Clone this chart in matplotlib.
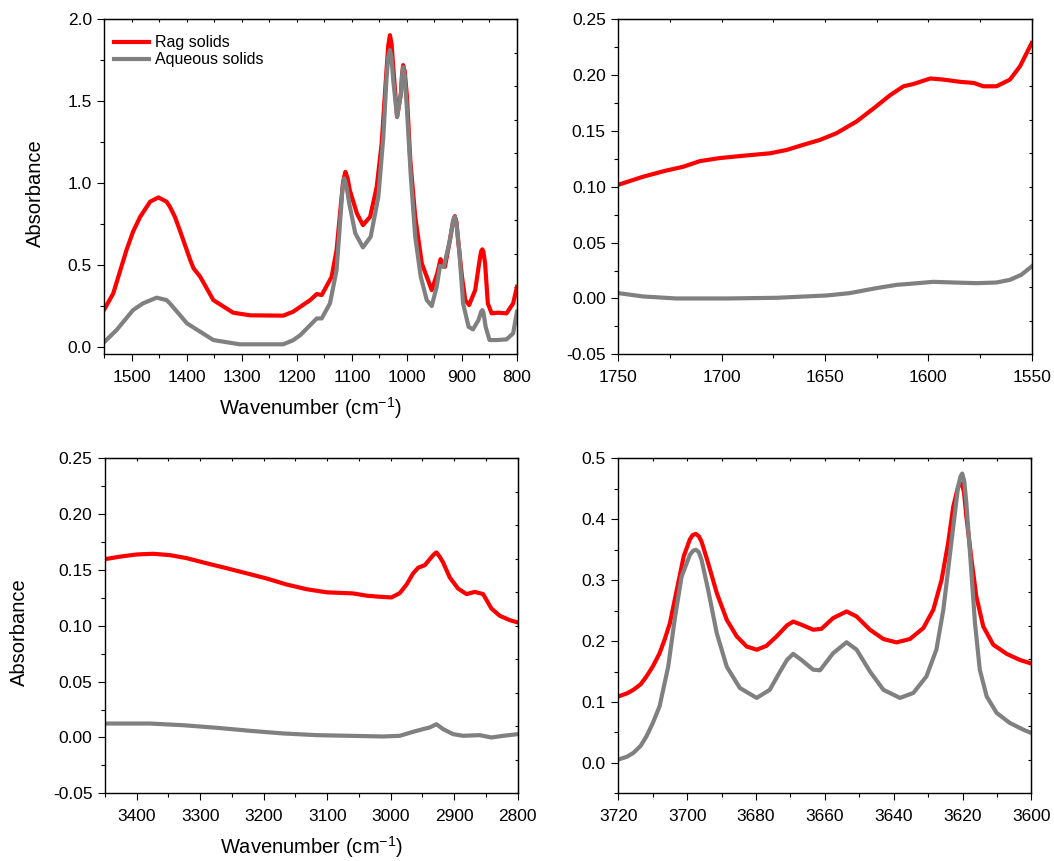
import numpy as np
import matplotlib.pyplot as plt
from matplotlib.ticker import MultipleLocator, FormatStrFormatter

plt.rcParams['font.family'] = ['Liberation Sans', 'DejaVu Sans']
plt.rcParams['axes.unicode_minus'] = False
plt.rcParams['mathtext.default'] = 'regular'

RED = '#ff0000'
GRAY = '#808080'

# ---- 1550-800 cm-1 window
fp_wn_rag = [1550, 1534, 1510, 1498, 1485, 1467, 1452, 1437, 1431, 1422, 1413, 1394, 1388,
             1376, 1352, 1316, 1285, 1225, 1207, 1194, 1176, 1164, 1155, 1137, 1128, 1120,
             1116, 1112, 1108, 1104, 1091, 1080, 1067, 1055, 1046, 1038, 1034, 1031, 1028,
             1025, 1018, 1011, 1009, 1007, 1004, 1000, 994, 985, 973, 955, 945, 939, 931, 922,
             916, 913, 910, 907, 900, 894, 887, 876, 867, 865, 863, 861, 858, 853, 846, 834,
             819, 807, 800]
fp_rag = [0.23, 0.326, 0.59, 0.703, 0.794, 0.886, 0.912, 0.886, 0.855, 0.794, 0.712, 0.529, 0.479,
          0.428, 0.285, 0.208, 0.192, 0.19, 0.214, 0.244, 0.285, 0.322, 0.316, 0.427, 0.59, 0.875,
          1.01, 1.068, 1.03, 0.957, 0.814, 0.743, 0.794, 0.977, 1.242, 1.65, 1.84, 1.903, 1.85,
          1.71, 1.404, 1.547, 1.66, 1.72, 1.68, 1.526, 1.14, 0.794, 0.509, 0.346, 0.448, 0.535,
          0.488, 0.651, 0.77, 0.798, 0.76, 0.651, 0.428, 0.285, 0.255, 0.346, 0.55, 0.585, 0.595,
          0.58, 0.509, 0.265, 0.204, 0.208, 0.204, 0.265, 0.366]
fp_wn_aq = [1550, 1528, 1498, 1480, 1455, 1437, 1431, 1400, 1376, 1352, 1304, 1225, 1207, 1194,
            1164, 1155, 1140, 1128, 1120, 1117, 1114, 1110, 1105, 1094, 1080, 1066, 1052, 1043,
            1037, 1034, 1031, 1028, 1025, 1018, 1011, 1009, 1007, 1004, 1000, 993, 985, 975, 964,
            955, 946, 940, 933, 922, 916, 913, 910, 905, 898, 888, 880, 870, 865, 863, 861, 857,
            850, 837, 819, 807, 800]
fp_aq = [0.03, 0.102, 0.224, 0.265, 0.30, 0.285, 0.265, 0.143, 0.092, 0.041, 0.015, 0.015, 0.04,
         0.071, 0.173, 0.173, 0.265, 0.468, 0.835, 0.98, 1.028, 0.98, 0.876, 0.693, 0.607, 0.672,
         0.916, 1.283, 1.65, 1.77, 1.812, 1.76, 1.629, 1.405, 1.547, 1.65, 1.707, 1.65, 1.446,
         1.038, 0.672, 0.428, 0.285, 0.249, 0.366, 0.493, 0.488, 0.651, 0.77, 0.794, 0.75, 0.59,
         0.265, 0.122, 0.106, 0.163, 0.215, 0.224, 0.21, 0.122, 0.041, 0.041, 0.045, 0.082, 0.214]

# ---- 1750-1550 cm-1 window
cc_wn_rag = [1750, 1738, 1728, 1718.5, 1710.5, 1701, 1689.5, 1676.6, 1668.5, 1660.5, 1652.4,
             1644.4, 1634.7, 1626.6, 1618.5, 1612, 1607.3, 1599, 1592.7, 1584.7, 1578, 1573.4,
             1567, 1560.5, 1555.6, 1550]
cc_rag = [0.1018, 0.109, 0.114, 0.118, 0.123, 0.1257, 0.1278, 0.130, 0.133, 0.1376, 0.142,
          0.148, 0.1585, 0.170, 0.182, 0.190, 0.192, 0.197, 0.196, 0.194, 0.193, 0.190,
          0.190, 0.196, 0.208, 0.2287]
cc_wn_aq = [1750, 1738, 1722, 1697.6, 1673.4, 1649, 1638, 1625, 1615.3, 1609, 1597.6, 1588,
            1576.6, 1567, 1560.5, 1555, 1550]
cc_aq = [0.0048, 0.0018, 0.0, 0.0, 0.0006, 0.0027, 0.0048, 0.0093, 0.0122, 0.0131, 0.0149,
         0.0143, 0.0137, 0.0143, 0.0167, 0.0212, 0.0287]

# ---- 3450-2800 cm-1 window
ch_wn_rag = [3450, 3426, 3400, 3374, 3347.7, 3321.5, 3290, 3258.5, 3227, 3195.5, 3164, 3132.6,
             3101, 3059, 3038, 3017, 2998.8, 2985.7, 2975, 2964.7, 2956.8, 2946.3, 2938.5, 2932,
             2928, 2923, 2917.5, 2907, 2894, 2880.7, 2867.6, 2854.5, 2841.4, 2828.3, 2812.6, 2800]
ch_rag = [0.1597, 0.162, 0.1639, 0.1645, 0.1633, 0.1606, 0.156, 0.1516, 0.147, 0.1424, 0.137,
          0.1328, 0.130, 0.129, 0.127, 0.126, 0.1254, 0.1293, 0.137, 0.147, 0.152, 0.1543,
          0.1597, 0.164, 0.1657, 0.162, 0.1567, 0.1433, 0.1334, 0.1284, 0.1304, 0.1284, 0.1155,
          0.109, 0.1051, 0.103]
ch_wn_aq = [3450, 3379, 3327, 3274, 3222, 3169, 3117, 3064, 3012, 2985.7, 2964.7, 2949, 2938.5,
            2928, 2917.5, 2901.7, 2886, 2860, 2841.4, 2823, 2800]
ch_aq = [0.0125, 0.0125, 0.011, 0.0087, 0.006, 0.0036, 0.0021, 0.0015, 0.0009, 0.0015, 0.0051,
         0.0075, 0.009, 0.0119, 0.0075, 0.003, 0.0015, 0.0021, 0.0, 0.0015, 0.003]

# ---- 3720-3600 cm-1 window
oh_wn_rag = [3720, 3717.5, 3715.6, 3713.5, 3711.8, 3710, 3708, 3706.5, 3705, 3703, 3701, 3699.2,
             3698.4, 3697.5, 3696.6, 3695.8, 3693.9, 3691.4, 3688.5, 3685.6, 3682.7, 3679.8,
             3677, 3674, 3671, 3669.2, 3666.8, 3663.4, 3661, 3657.6, 3653.7, 3650.8, 3646.9,
             3643, 3639.2, 3635.3, 3631.4, 3628.5, 3626.1, 3624.2, 3622.7, 3621.3, 3620.3,
             3619.6, 3618.9, 3617.4, 3616, 3614, 3611.1, 3607.2, 3603.4, 3600]
oh_rag = [0.109, 0.114, 0.120, 0.129, 0.142, 0.158, 0.180, 0.203, 0.2295, 0.284, 0.339, 0.367,
          0.374, 0.376, 0.372, 0.363, 0.328, 0.279, 0.235, 0.2077, 0.191, 0.1858, 0.192, 0.2077,
          0.2257, 0.232, 0.2268, 0.2186, 0.2200, 0.2377, 0.2486, 0.2404, 0.2186, 0.2033, 0.1978,
          0.2033, 0.2213, 0.2514, 0.3005, 0.3607, 0.4208, 0.4536, 0.459, 0.445, 0.404, 0.333,
          0.273, 0.224, 0.194, 0.179, 0.169, 0.163]
oh_wn_aq = [3720, 3717.5, 3715.6, 3713.5, 3711.8, 3710, 3708, 3705.5, 3703.5, 3701.6, 3699.2,
            3698.3, 3697.5, 3696.6, 3695.8, 3693.9, 3691.4, 3688.5, 3684.7, 3679.8, 3676, 3673,
            3671, 3669.2, 3666.8, 3663.4, 3661.4, 3657.6, 3653.7, 3650.8, 3646.9, 3643, 3638.2,
            3634.3, 3630.5, 3627.6, 3625.6, 3624.2, 3622.7, 3621.3, 3620.6, 3620.1, 3619.5,
            3618.9, 3617.7, 3616.4, 3615, 3613, 3610.1, 3606.3, 3602.4, 3600]
oh_aq = [0.0055, 0.010, 0.0164, 0.028, 0.0437, 0.065, 0.0929, 0.158, 0.240, 0.306, 0.3415, 0.348,
         0.350, 0.346, 0.333, 0.284, 0.213, 0.158, 0.123, 0.1066, 0.120, 0.150, 0.169, 0.179,
         0.169, 0.153, 0.152, 0.180, 0.198, 0.186, 0.150, 0.120, 0.1066, 0.1148, 0.142, 0.186,
         0.251, 0.317, 0.388, 0.4536, 0.47, 0.475, 0.462, 0.426, 0.333, 0.2295, 0.153, 0.109,
         0.082, 0.0656, 0.0546, 0.049]

fig = plt.figure(figsize=(10.54, 8.61), dpi=100)


def make_panel(rect, xlim, ylim, xmaj, xmin, ymaj, ymin, yfmt, rag, aq):
    ax = fig.add_axes(rect)
    ax.plot(rag[0], rag[1], color=RED, lw=3.0, label='Rag solids', solid_joinstyle='round')
    ax.plot(aq[0], aq[1], color=GRAY, lw=3.0, label='Aqueous solids', solid_joinstyle='round')
    ax.set_xlim(xlim)
    ax.set_ylim(ylim)
    ax.xaxis.set_major_locator(MultipleLocator(xmaj))
    ax.xaxis.set_minor_locator(MultipleLocator(xmin))
    ax.yaxis.set_major_locator(MultipleLocator(ymaj))
    ax.yaxis.set_minor_locator(MultipleLocator(ymin))
    ax.yaxis.set_major_formatter(FormatStrFormatter(yfmt))
    ax.xaxis.set_major_formatter(FormatStrFormatter('%d'))
    ax.tick_params(which='both', direction='out', width=0.8, labelsize=12.5)
    ax.tick_params(which='major', length=5)
    ax.tick_params(which='minor', length=3)
    ax.tick_params(axis='x', pad=6)
    ax.tick_params(axis='y', pad=4)
    for s in ax.spines.values():
        s.set_linewidth(1.0)
    # small inward ticks on the top and right frame
    top = ax.secondary_xaxis('top')
    top.xaxis.set_major_locator(MultipleLocator(xmin))
    top.tick_params(direction='in', length=2.5, width=0.8, labeltop=False)
    y0, y1 = ylim
    right = ax.secondary_yaxis('right', functions=(lambda y: (y - y0) / (y1 - y0),
                                                   lambda f: y0 + f * (y1 - y0)))
    right.set_yticks(np.linspace(0, 1, 11))
    right.tick_params(direction='in', length=2.5, width=0.8, labelright=False)
    return ax


ax1 = make_panel([0.0991, 0.5885, 0.3914, 0.3891], (1550, 800), (-0.046, 2.0),
                 100, 50, 0.5, 0.25, '%.1f', (fp_wn_rag, fp_rag), (fp_wn_aq, fp_aq))
ax2 = make_panel([0.5866, 0.5885, 0.3922, 0.3891], (1750, 1550), (-0.05, 0.25),
                 50, 25, 0.05, 0.025, '%.2f', (cc_wn_rag, cc_rag), (cc_wn_aq, cc_aq))
ax3 = make_panel([0.0996, 0.0786, 0.3916, 0.3891], (3450, 2800), (-0.05, 0.25),
                 100, 50, 0.05, 0.025, '%.2f', (ch_wn_rag, ch_rag), (ch_wn_aq, ch_aq))
ax4 = make_panel([0.5866, 0.0786, 0.392, 0.3891], (3720, 3600), (-0.05, 0.5),
                 20, 10, 0.1, 0.05, '%.1f', (oh_wn_rag, oh_rag), (oh_wn_aq, oh_aq))

for ax, ylx in ((ax1, -0.168), (ax3, -0.206)):
    ax.set_xlabel('Wavenumber (cm$^{-1}$)', fontsize=14.5)
    ax.xaxis.set_label_coords(0.5, -0.16)
    ax.xaxis.label.set_va('center')
    ax.set_ylabel('Absorbance', fontsize=14.5)
    ax.yaxis.set_label_coords(ylx, 0.48)
    ax.yaxis.label.set_va('center')

ax1.legend(loc='upper left', bbox_to_anchor=(0.023, 0.952), frameon=False, fontsize=11.5,
           handlelength=2.2, handletextpad=0.35, labelspacing=0.12, borderpad=0,
           borderaxespad=0)

fig.savefig('out.png', dpi=100)
